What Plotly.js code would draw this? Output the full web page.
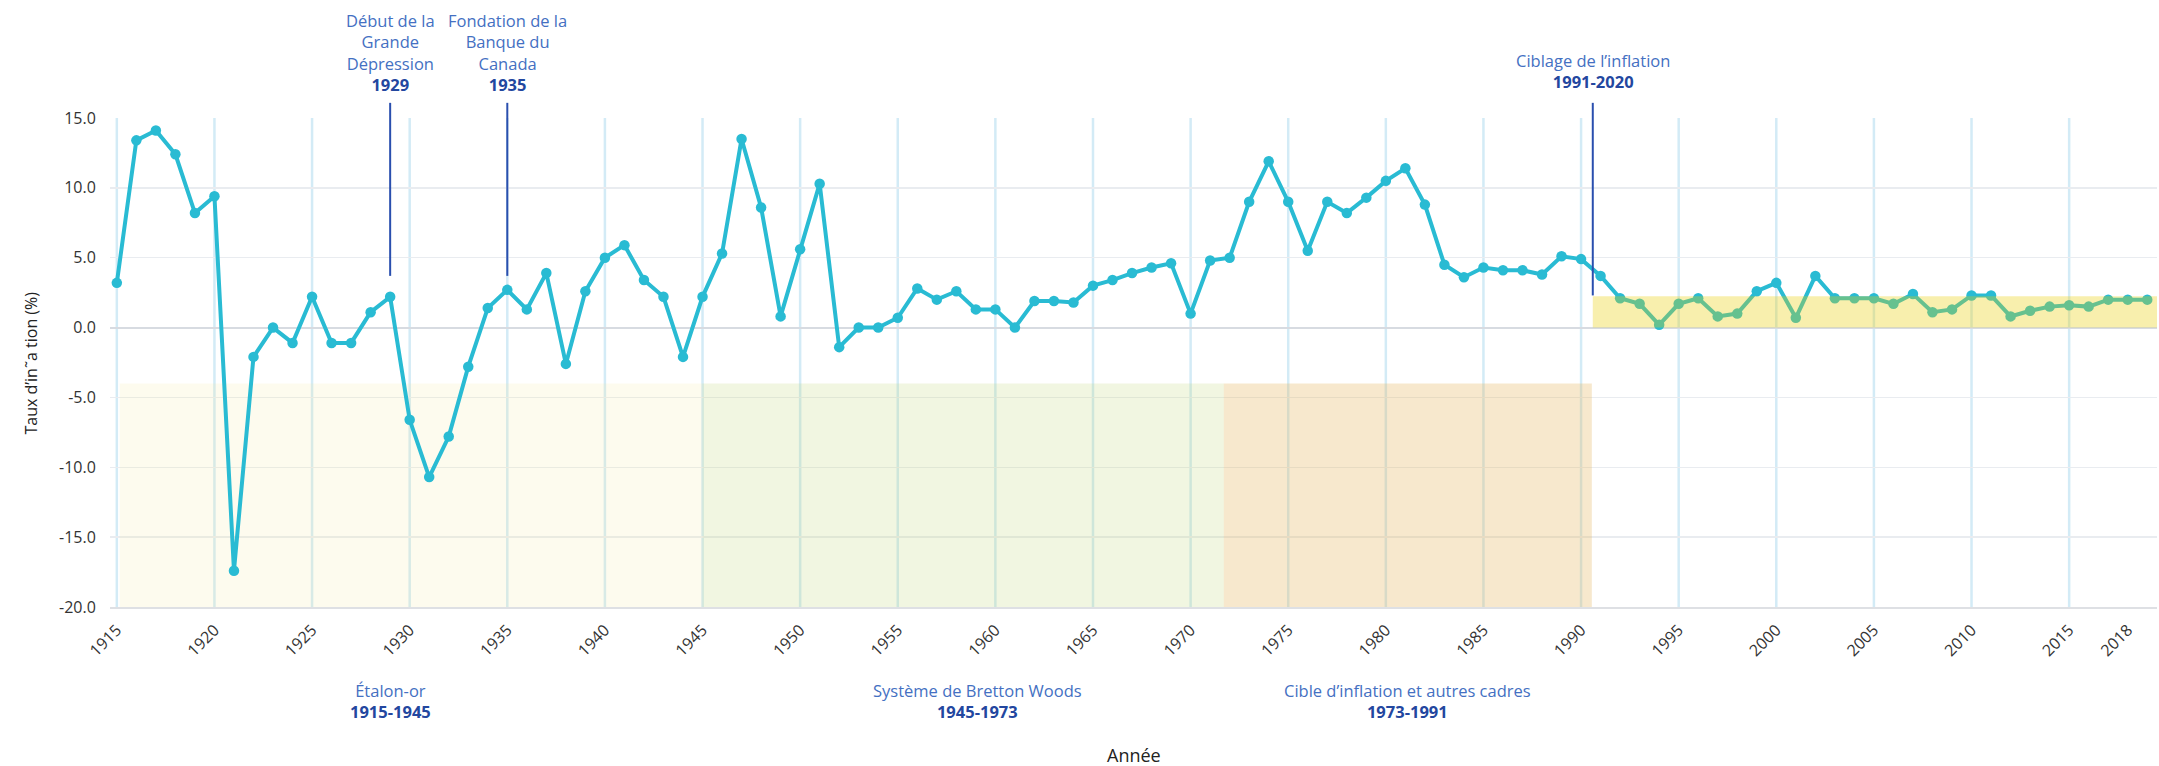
<!DOCTYPE html>
<html><head><meta charset="utf-8">
<script src="https://cdn.plot.ly/plotly-3.0.1.min.js"></script>
<style>html,body{margin:0;padding:0;background:#fff}#chart{width:2159px;height:766px}</style>
</head><body><div id="chart"></div>
<script>
const years = [1915,1916,1917,1918,1919,1920,1921,1922,1923,1924,1925,1926,1927,1928,1929,1930,1931,1932,1933,1934,
  1935,1936,1937,1938,1939,1940,1941,1942,1943,1944,1945,1946,1947,1948,1949,1950,1951,1952,1953,1954,
  1955,1956,1957,1958,1959,1960,1961,1962,1963,1964,1965,1966,1967,1968,1969,1970,1971,1972,1973,1974,
  1975,1976,1977,1978,1979,1980,1981,1982,1983,1984,1985,1986,1987,1988,1989,1990,1991,1992,1993,1994,
  1995,1996,1997,1998,1999,2000,2001,2002,2003,2004,2005,2006,2007,2008,2009,2010,2011,2012,2013,2014,
  2015,2016,2017,2018,2019];
const inflation = [3.2,13.4,14.1,12.4,8.2,9.4,-17.4,-2.1,0.0,-1.1,2.2,-1.1,-1.1,1.1,2.2,-6.6,-10.7,-7.8,-2.8,1.4,
  2.7,1.3,3.9,-2.6,2.6,5.0,5.9,3.4,2.2,-2.1,2.2,5.3,13.5,8.6,0.8,5.6,10.3,-1.4,0.0,0.0,
  0.7,2.8,2.0,2.6,1.3,1.3,0.0,1.9,1.9,1.8,3.0,3.4,3.9,4.3,4.6,1.0,4.8,5.0,9.0,11.9,
  9.0,5.5,9.0,8.2,9.3,10.5,11.4,8.8,4.5,3.6,4.3,4.1,4.1,3.8,5.1,4.9,3.7,2.1,1.7,0.2,
  1.7,2.1,0.8,1.0,2.6,3.2,0.7,3.7,2.1,2.1,2.1,1.7,2.4,1.1,1.3,2.3,2.3,0.8,1.2,1.5,
  1.6,1.5,2.0,2.0,2.0];

const yTickVals = [-20,-15,-10,-5,0,5,10,15];
const yTickText = ["-20.0","-15.0","-10.0","-5.0","0.0","5.0","10.0","15.0"];
const xTickVals = [1915,1920,1925,1930,1935,1940,1945,1950,1955,1960,1965,1970,1975,1980,1985,1990,1995,2000,2005,2010,2015,2018];
const xTickText = ["1915","1920","1925","1930","1935","1940","1945","1950","1955","1960","1965","1970","1975","1980","1985","1990","1995","2000","2005","2010","2015","2018"];
const gridYears = [1915,1920,1925,1930,1935,1940,1945,1950,1955,1960,1965,1970,1975,1980,1985,1990,1995,2000,2005,2010,2015];

const eraNames = ["Étalon-or","Système de Bretton Woods","Cible d’inflation et autres cadres"];
const eraPeriods = ["1915-1945","1945-1973","1973-1991"];
const eraStart = [1915.15, 1945, 1971.7];
const eraEnd = [1945, 1971.7, 1990.55];
const eraLabelX = [1929, 1959.1, 1981.1];
const eraColors = ["rgba(245,228,150,0.16)","rgba(190,215,120,0.22)","rgba(230,180,90,0.30)"];
const eraTop = -4;

const eventNames = ["Début de la<br>Grande<br>Dépression","Fondation de la<br>Banque du<br>Canada"];
const eventYears = [1929, 1935];
const eventLabels = ["1929","1935"];
const eventLineBottom = [3.7, 3.7];

const targetName = "Ciblage de l’inflation";
const targetPeriod = "1991-2020";
const targetStart = 1990.6;
const targetLineBottom = 2.3;
const targetBand = [0, 2.25];

const yMin = -20, yMax = 15;
const toPaper = v => (v - yMin) / (yMax - yMin);

const blue = "#4470c2", darkBlue = "#23479f";
const FONT = "'Open Sans', 'Noto Sans', Roboto, sans-serif";

const shapes = [];
gridYears.forEach(g => shapes.push({type:'line', layer:'below', xref:'x', yref:'paper', x0:g, x1:g, y0:0, y1:1,
  line:{color:'rgb(211,235,246)', width:2.5}}));
eraNames.forEach((n,i) => shapes.push({type:'rect', layer:'between', xref:'x', yref:'y', x0:eraStart[i], x1:eraEnd[i],
  y0:yMin, y1:eraTop, fillcolor:eraColors[i], line:{width:0}}));
shapes.push({type:'rect', layer:'above', xref:'x', yref:'y', x0:targetStart, x1:2030, y0:targetBand[0], y1:targetBand[1],
  fillcolor:'rgba(232,205,0,0.32)', line:{width:0}});
eventYears.forEach((yr,i) => shapes.push({type:'line', layer:'above', xref:'x', yref:'paper', x0:yr, x1:yr,
  y0:toPaper(eventLineBottom[i]), y1:1.031, line:{color:'#2a4fae', width:2}}));
shapes.push({type:'line', layer:'above', xref:'x', yref:'paper', x0:targetStart, x1:targetStart,
  y0:toPaper(targetLineBottom), y1:1.031, line:{color:'#2a4fae', width:2}});

const annotations = [];
eventNames.forEach((n,i) => annotations.push({xref:'x', yref:'paper', x:eventYears[i], y:1.134, xanchor:'center', yanchor:'middle',
  showarrow:false, align:'center', text: n + '<br><span style="color:'+darkBlue+'"><b>' + eventLabels[i] + '</b></span>',
  font:{family:FONT, size:16.5, color:blue}}));
annotations.push({xref:'x', yref:'paper', x:targetStart, y:1.096, xanchor:'center', yanchor:'middle', showarrow:false, align:'center',
  text: targetName + '<br><span style="color:'+darkBlue+'"><b>' + targetPeriod + '</b></span>',
  font:{family:FONT, size:16.5, color:blue}});
eraNames.forEach((n,i) => annotations.push({xref:'x', yref:'paper', x:eraLabelX[i], y:-0.192, xanchor:'center', yanchor:'middle',
  showarrow:false, align:'center', text: n + '<br><span style="color:'+darkBlue+'"><b>' + eraPeriods[i] + '</b></span>',
  font:{family:FONT, size:16.5, color:blue}}));
annotations.push({xref:'paper', yref:'paper', x:0.5, y:-0.303, xanchor:'center', yanchor:'middle', showarrow:false,
  text:'Année', font:{family:FONT, size:18, color:'#222'}});
annotations.push({xref:'paper', yref:'paper', x:-0.0386, y:0.5, xanchor:'center', yanchor:'middle', showarrow:false, textangle:-90,
  text:'Taux d’in˜a tion (%)', font:{family:FONT, size:16, color:'#222'}});

const trace = {x:years, y:inflation, type:'scatter', mode:'lines+markers',
  line:{color:'rgb(41,187,211)', width:4}, marker:{color:'rgb(41,187,211)', size:10.5}, hoverinfo:'x+y'};

const layout = {
  width:2159, height:766, margin:{l:110, r:2, t:118, b:159}, paper_bgcolor:'#fff', plot_bgcolor:'#fff',
  showlegend:false,
  xaxis:{range:[1914.65, 2019.5], showgrid:false, zeroline:false, tickvals:xTickVals, ticktext:xTickText, tickangle:-45,
    ticks:'outside', ticklen:6, tickcolor:'rgba(0,0,0,0)', showline:true, linecolor:'rgb(222,224,228)', linewidth:1.5,
    tickfont:{family:FONT, size:16, color:'#333'}},
  yaxis:{range:[yMin, yMax], tickvals:yTickVals, ticktext:yTickText, showgrid:true, gridcolor:'rgb(233,236,240)', gridwidth:1.5,
    zeroline:true, zerolinecolor:'rgb(215,219,225)', zerolinewidth:2, ticks:'outside', ticklen:10, tickcolor:'rgba(0,0,0,0)',
    tickfont:{family:FONT, size:16, color:'#333'}},
  shapes:shapes, annotations:annotations
};
Plotly.newPlot('chart', [trace], layout, {displayModeBar:false, staticPlot:true});
</script></body></html>
